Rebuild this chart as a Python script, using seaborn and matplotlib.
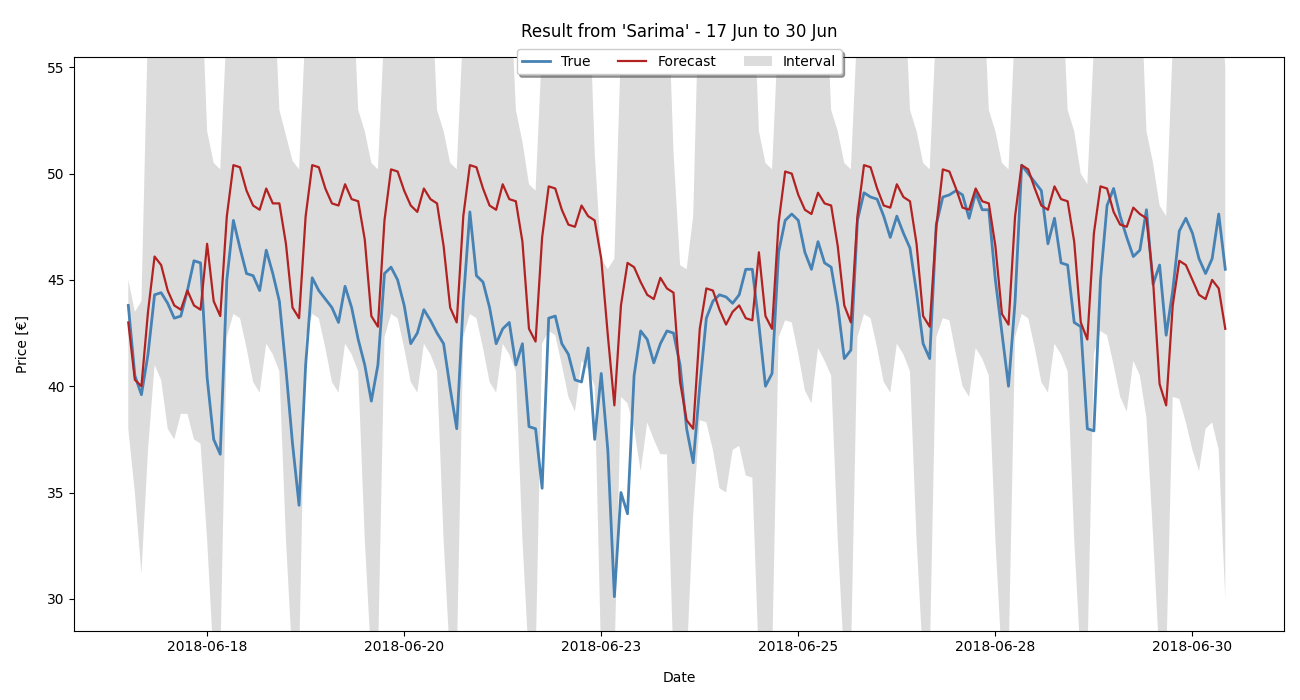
import matplotlib
matplotlib.use("Agg")
import matplotlib.pyplot as plt
import matplotlib.dates as mdates
import numpy as np
import pandas as pd
import seaborn as sns

# 2-hourly values, 12 per day, 17 Jun .. 30 Jun 2018
true_vals = [
    43.8, 40.5, 39.6, 41.5, 44.3, 44.4, 43.9, 43.2, 43.3, 44.5, 45.9, 45.8,
    40.4, 37.5, 36.8, 45.0, 47.8, 46.5, 45.3, 45.2, 44.5, 46.4, 45.3, 44.0,
    40.8, 37.3, 34.4, 41.0, 45.1, 44.5, 44.1, 43.7, 43.0, 44.7, 43.7, 42.2,
    41.0, 39.3, 41.0, 45.3, 45.6, 45.0, 43.8, 42.0, 42.5, 43.6, 43.1, 42.5,
    42.0, 39.9, 38.0, 44.0, 48.2, 45.2, 44.9, 43.7, 42.0, 42.7, 43.0, 41.0,
    42.0, 38.1, 38.0, 35.2, 43.2, 43.3, 42.0, 41.5, 40.3, 40.2, 41.8, 37.5,
    40.6, 37.0, 30.1, 35.0, 34.0, 40.5, 42.6, 42.2, 41.1, 42.0, 42.6, 42.5,
    41.0, 38.0, 36.4, 40.0, 43.2, 44.0, 44.3, 44.2, 43.9, 44.3, 45.5, 45.5,
    42.9, 40.0, 40.6, 46.3, 47.8, 48.1, 47.8, 46.3, 45.5, 46.8, 45.8, 45.6,
    43.8, 41.3, 41.7, 47.8, 49.1, 48.9, 48.8, 48.0, 47.0, 48.0, 47.2, 46.5,
    44.4, 42.0, 41.3, 47.6, 48.9, 49.0, 49.2, 49.0, 47.9, 49.1, 48.3, 48.3,
    45.0, 42.5, 40.0, 44.0, 50.4, 50.0, 49.6, 49.2, 46.7, 47.9, 45.8, 45.7,
    43.0, 42.8, 38.0, 37.9, 45.0, 48.5, 49.3, 48.0, 47.0, 46.1, 46.4, 48.3,
    44.8, 45.7, 42.4, 44.5, 47.3, 47.9, 47.2, 46.0, 45.3, 46.0, 48.1, 45.5,
]
forecast_vals = [
    43.0, 40.3, 40.0, 43.5, 46.1, 45.7, 44.5, 43.8, 43.6, 44.5, 43.8, 43.6,
    46.7, 44.0, 43.3, 48.0, 50.4, 50.3, 49.2, 48.5, 48.3, 49.3, 48.6, 48.6,
    46.7, 43.7, 43.2, 48.0, 50.4, 50.3, 49.3, 48.6, 48.5, 49.5, 48.8, 48.7,
    46.9, 43.3, 42.8, 47.8, 50.2, 50.1, 49.2, 48.5, 48.2, 49.3, 48.8, 48.6,
    46.6, 43.7, 43.0, 48.0, 50.4, 50.3, 49.3, 48.5, 48.3, 49.5, 48.8, 48.7,
    46.8, 42.7, 42.1, 47.0, 49.4, 49.3, 48.3, 47.6, 47.5, 48.5, 48.0, 47.8,
    46.0, 42.4, 39.1, 43.8, 45.8, 45.6, 44.9, 44.3, 44.1, 45.1, 44.6, 44.4,
    40.2, 38.4, 38.0, 42.7, 44.6, 44.5, 43.6, 42.9, 43.5, 43.8, 43.2, 43.1,
    46.3, 43.3, 42.7, 47.7, 50.1, 50.0, 49.0, 48.3, 48.1, 49.1, 48.6, 48.5,
    46.6, 43.8, 43.0, 48.0, 50.4, 50.3, 49.3, 48.5, 48.4, 49.5, 48.9, 48.7,
    46.7, 43.3, 42.8, 47.5, 50.2, 50.1, 49.3, 48.4, 48.3, 49.3, 48.7, 48.6,
    46.6, 43.4, 42.9, 48.0, 50.4, 50.2, 49.3, 48.5, 48.3, 49.4, 48.8, 48.7,
    46.8, 43.0, 42.2, 47.2, 49.4, 49.3, 48.2, 47.6, 47.5, 48.4, 48.1, 47.9,
    45.0, 40.1, 39.1, 43.8, 45.9, 45.7, 45.0, 44.3, 44.1, 45.0, 44.6, 42.7,
]
lower_vals = [
    38.0, 35.0, 31.2, 37.0, 41.0, 40.3, 38.0, 37.5, 38.7, 38.7, 37.5, 37.3,
    32.8, 27.0, 27.0, 42.3, 43.4, 43.2, 41.8, 40.2, 39.7, 42.0, 41.5, 40.7,
    32.8, 27.0, 27.0, 42.3, 43.4, 43.2, 41.8, 40.2, 39.7, 42.0, 41.5, 40.7,
    32.8, 27.0, 27.0, 42.3, 43.4, 43.2, 41.8, 40.2, 39.7, 42.0, 41.5, 40.7,
    32.8, 27.0, 27.0, 42.3, 43.4, 43.2, 41.8, 40.2, 39.7, 42.0, 41.5, 40.7,
    32.8, 27.0, 27.0, 42.0, 42.6, 42.4, 41.0, 39.5, 38.8, 41.2, 40.8, 40.0,
    27.0, 27.0, 27.0, 39.5, 39.2, 38.0, 36.0, 38.3, 37.5, 36.8, 36.8, 27.0,
    27.0, 27.0, 34.0, 38.4, 38.3, 37.0, 35.2, 35.0, 37.0, 37.2, 35.8, 35.7,
    27.0, 27.0, 27.0, 42.3, 43.1, 43.0, 41.5, 39.8, 39.2, 41.8, 41.2, 40.5,
    32.8, 27.0, 27.0, 42.3, 43.4, 43.2, 41.8, 40.2, 39.7, 42.0, 41.5, 40.7,
    32.8, 27.0, 27.0, 42.3, 43.2, 43.1, 41.5, 40.0, 39.5, 41.8, 41.3, 40.5,
    32.8, 27.0, 27.0, 42.3, 43.4, 43.2, 41.8, 40.2, 39.7, 42.0, 41.5, 40.7,
    32.8, 27.0, 27.0, 41.5, 42.6, 42.4, 41.0, 39.5, 38.8, 41.2, 40.5, 38.5,
    33.0, 27.0, 27.0, 39.5, 39.4, 38.3, 37.0, 36.0, 38.0, 38.3, 37.0, 30.0,
]
upper_vals = [
    45.0, 43.5, 44.0, 57.0, 60, 60, 60, 60, 60, 60, 60, 60,
    52.0, 50.5, 50.2, 57.0, 60, 60, 60, 60, 60, 60, 60, 53.0,
    51.8, 50.6, 50.2, 57.0, 60, 60, 60, 60, 60, 60, 60, 53.0,
    52.0, 50.5, 50.2, 57.0, 60, 60, 60, 60, 60, 60, 60, 53.0,
    52.0, 50.5, 50.2, 57.0, 60, 60, 60, 60, 60, 60, 60, 53.0,
    51.5, 49.5, 49.2, 56.0, 60, 60, 60, 60, 60, 60, 60, 51.0,
    46.0, 45.5, 46.0, 56.0, 60, 60, 60, 60, 60, 60, 60, 51.0,
    45.7, 45.5, 48.0, 60.0, 60, 60, 60, 60, 60, 60, 60, 60,
    52.0, 50.5, 50.2, 57.0, 60, 60, 60, 60, 60, 60, 60, 53.0,
    52.0, 50.5, 50.2, 57.0, 60, 60, 60, 60, 60, 60, 60, 53.0,
    52.0, 50.5, 50.2, 57.0, 60, 60, 60, 60, 60, 60, 60, 53.0,
    52.0, 50.5, 50.2, 57.0, 60, 60, 60, 60, 60, 60, 60, 53.0,
    52.0, 50.0, 49.5, 56.0, 60, 60, 60, 60, 60, 60, 60, 52.0,
    50.5, 48.5, 48.0, 56.0, 60, 60, 60, 60, 60, 60, 60, 55.0,
]

dates = pd.date_range("2018-06-17 00:00", periods=len(true_vals), freq="2h")
df = pd.DataFrame({"Date": dates, "True": true_vals, "Forecast": forecast_vals,
                   "lower": lower_vals, "upper": upper_vals})

fig, ax = plt.subplots(figsize=(13, 7), dpi=100)
fig.subplots_adjust(left=0.057, right=0.988, top=0.919, bottom=0.099)

ax.fill_between(df["Date"], df["lower"], df["upper"], color="#dcdcdc",
                linewidth=0, label="Interval")
sns.lineplot(data=df, x="Date", y="True", ax=ax, color="steelblue",
             linewidth=2, label="True")
sns.lineplot(data=df, x="Date", y="Forecast", ax=ax, color="firebrick",
             linewidth=1.6, label="Forecast")

ax.set_ylim(28.5, 55.5)
ax.set_xlim(pd.Timestamp("2018-06-16 07:30"), pd.Timestamp("2018-07-01 16:00"))
ticks = pd.date_range("2018-06-18", periods=6, freq="60h")
ax.set_xticks(ticks)
ax.xaxis.set_major_formatter(mdates.DateFormatter("%Y-%m-%d"))
ax.set_xlabel("Date", labelpad=12)
ax.set_ylabel("Price [€]", labelpad=12)
ax.set_title("Result from 'Sarima' - 17 Jun to 30 Jun", pad=14)

handles, labels = ax.get_legend_handles_labels()
order = [labels.index(l) for l in ["True", "Forecast", "Interval"]]
ax.legend([handles[i] for i in order], [labels[i] for i in order],
          loc="upper center", bbox_to_anchor=(0.5, 1.025), ncol=3,
          shadow=True, framealpha=1)

fig.savefig("out.png")
